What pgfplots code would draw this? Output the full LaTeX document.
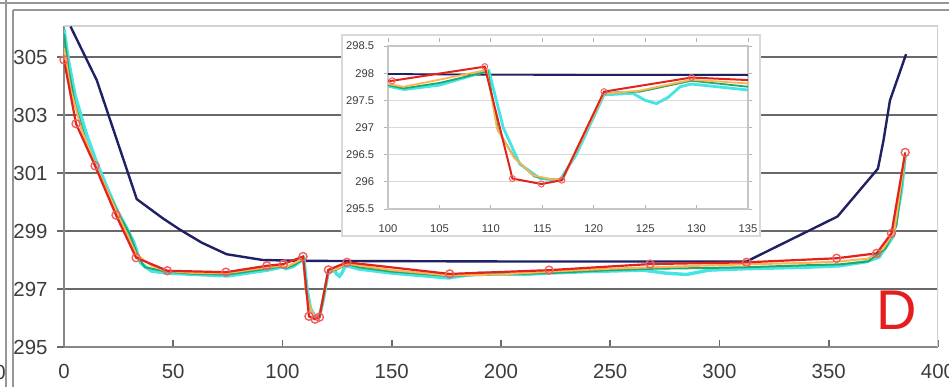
\documentclass[border=0pt]{standalone}
\usepackage{pgfplots}
\usepackage{pgfplotstable}
\pgfplotsset{compat=1.18}
\usepackage{fontspec}
\setmainfont{Liberation Sans}

\definecolor{cnavy}{RGB}{32,32,100}
\definecolor{cred}{RGB}{225,35,30}
\definecolor{cmark}{RGB}{240,95,95}
\definecolor{corange}{RGB}{255,180,80}
\definecolor{cgreen}{RGB}{30,170,110}
\definecolor{ccyan}{RGB}{70,228,228}
\definecolor{cgrid}{RGB}{105,105,105}
\definecolor{ctext}{RGB}{60,60,60}
\definecolor{cframe}{RGB}{150,150,150}

\pgfplotstableread{
x y
3 306.05
15 304.2
33.3 300.1
45 299.45
53 299.05
63 298.6
74.4 298.2
91 298.0
110 297.97
200 297.95
312.4 297.95
354 299.5
372.5 301.15
375 302.1
378 303.5
385.4 305.1
}\navy

\pgfplotstableread{
x y
0 304.9
5.5 302.7
14.2 301.25
23.8 299.55
33 298.08
47.3 297.63
74.1 297.58
92.8 297.8
100.4 297.86
109.4 298.12
112.1 296.06
114.9 295.96
116.9 296.03
121 297.66
129.5 297.92
176.5 297.52
222 297.65
268.2 297.86
312.4 297.92
353.6 298.06
371.9 298.23
378.7 298.92
385 301.71
}\red

\pgfplotstableread{
x y
0 305.3
3 303.9
8 302.5
14 301.35
20 300.35
26 299.35
33 298.2
40 297.8
47 297.62
60 297.55
75 297.55
93 297.75
100 297.8
101.5 297.75
105 297.88
109.6 298.06
110.6 296.98
112.2 296.46
114.1 296.12
116 296.04
117 296.05
121 297.62
124.5 297.68
129.5 297.88
135 297.81
150 297.65
176 297.47
200 297.5
222 297.6
250 297.7
270 297.75
290 297.8
312 297.85
340 297.9
355 297.95
368 298.05
375 298.4
380 299.0
385 301.6
}\orange

\pgfplotstableread{
x y
0 305.8
2 304.6
5 303.4
10 302.1
15 301.15
20 300.35
26 299.45
30 298.9
34 298.1
37 297.75
47 297.6
60 297.52
75 297.5
93 297.7
100 297.78
101.5 297.72
105 297.82
109.7 298.03
110.7 296.95
112.3 296.44
114.2 296.1
116 296.04
117 296.05
121 297.64
124.5 297.66
129.5 297.86
135 297.75
150 297.6
176 297.45
200 297.5
222 297.55
250 297.65
270 297.7
290 297.72
312 297.75
340 297.82
355 297.85
368 297.95
376 298.4
381 299.2
385 301.6
}\green

\pgfplotstableread{
x y
0 305.95
2 304.9
5 303.7
10 302.4
15 301.35
20 300.45
24 299.75
28 299.2
32 298.6
35 297.9
40 297.62
47 297.55
60 297.5
75 297.45
93 297.65
100 297.76
101.6 297.7
105 297.78
109.8 298.05
111.2 297.0
112.8 296.33
114.8 296.06
116.7 296.03
118.3 296.5
121 297.6
123.8 297.63
125 297.5
126.1 297.44
127.2 297.55
128.4 297.75
129.5 297.8
135 297.69
150 297.55
176 297.38
190 297.55
210 297.5
222 297.55
240 297.6
265 297.65
275 297.55
285 297.5
295 297.65
312 297.7
340 297.75
355 297.8
367 297.94
373 298.1
379.4 298.8
383.3 300.4
385 301.6
}\cyan

\begin{document}
\begin{tikzpicture}
\useasboundingbox (0,0) rectangle (474.5pt,193.5pt);
% window frame lines
\draw[cframe, line width=1pt] (3pt,0) -- (3pt,193.5pt);
\draw[cframe, line width=1pt] (6.5pt,0) -- (6.5pt,188.3pt);
\draw[cframe, line width=1pt] (0,191.8pt) -- (474.5pt,191.8pt);
\draw[cframe, line width=1pt] (6.5pt,188.3pt) -- (474.5pt,188.3pt);
\node[font=\fontsize{10.2}{12}\selectfont, text=ctext] at (0pt,7.5pt) {0};

% main axis
\begin{axis}[
  at={(32pt,20pt)}, anchor=south west,
  scale only axis, width=437pt, height=160.5pt,
  xmin=0, xmax=400, ymin=295, ymax=306.07,
  xtick={0,50,...,400}, ytick={295,297,...,305},
  axis x line*=bottom, axis y line*=left,
  axis line style={draw=cgrid!80, line width=0.9pt},
  ymajorgrids, major grid style={draw=cgrid, line width=0.9pt},
  tick align=outside, major tick length=3.5pt,
  tick style={draw=cgrid, line width=0.8pt},
  x tick style={yshift=3.5pt},
  /pgf/number format/assume math mode=true,
  ticklabel style={font=\fontsize{10.2}{12}\selectfont, text=ctext},
  xticklabel style={yshift=-1.5pt},
  yticklabel style={xshift=-1.2pt},
  /pgf/number format/1000 sep={},
  clip=true,
]
\draw[gray!35, line width=0.8pt] (rel axis cs:0,1) -- (rel axis cs:1,1) -- (rel axis cs:1,0);
\addplot[cnavy, line width=1.2pt, no marks] table {\navy};
\addplot[ccyan, line width=1.7pt, no marks] table {\cyan};
\addplot[cgreen, line width=1.0pt, no marks] table {\green};
\addplot[corange, line width=1.0pt, no marks] table {\orange};
\addplot[cred, line width=1.1pt, mark=o, mark size=2pt,
  mark options={draw=cmark, fill=white, line width=0.7pt, solid}] table {\red};
\end{axis}

\node[text={rgb,255:red,228;green,30;blue,30}, font=\fontsize{28}{30}\selectfont, inner sep=0pt] at (448.5pt,38.5pt) {D};

% inset box
\filldraw[fill=white, draw=gray!30, line width=0.6pt] (171pt,75.5pt) rectangle (380pt,176pt);

\begin{axis}[
  at={(194pt,89pt)}, anchor=south west,
  scale only axis, width=180pt, height=81.5pt,
  xmin=100, xmax=135, ymin=295.5, ymax=298.5,
  xtick={100,105,...,135}, ytick={295.5,296,...,298.5},
  axis line style={draw=gray!45, line width=0.6pt},
  ymajorgrids, major grid style={draw=gray!30, line width=0.6pt},
  tick align=outside, major tick length=2pt,
  tick style={draw=gray!60, line width=0.5pt},
  x tick style={yshift=2pt},
  /pgf/number format/assume math mode=true,
  ticklabel style={font=\fontsize{5.6}{6.5}\selectfont, text=ctext},
  xticklabel style={yshift=-2.2pt},
  yticklabel style={xshift=-1.4pt},
  /pgf/number format/1000 sep={},
  clip=true,
]
\addplot[cnavy, line width=0.9pt, no marks] table {\navy};
\addplot[ccyan, line width=1.4pt, no marks] table {\cyan};
\addplot[cgreen, line width=0.9pt, no marks] table {\green};
\addplot[corange, line width=0.9pt, no marks] table {\orange};
\addplot[cred, line width=1.0pt, mark=o, mark size=1.5pt,
  mark options={draw=cmark, fill=white, line width=0.5pt, solid}] table {\red};
\end{axis}
\end{tikzpicture}
\end{document}
